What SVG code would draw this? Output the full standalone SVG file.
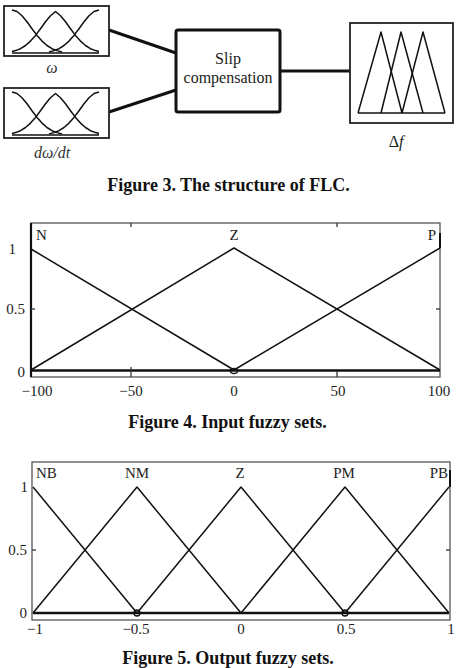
<svg xmlns="http://www.w3.org/2000/svg" xmlns:xlink="http://www.w3.org/1999/xlink" width="462" height="668" viewBox="0 0 462 668">
<style>
.cap{font-family:"Liberation Serif","Times New Roman",serif;font-weight:bold;font-size:18px;fill:#111;text-anchor:middle}
.lbl{font-family:"Liberation Serif","Times New Roman",serif;font-size:15px;fill:#222}
.ser{font-family:"Liberation Serif","Times New Roman",serif;font-size:16px;fill:#222;text-anchor:middle}
.it{font-family:"Liberation Serif","Times New Roman",serif;font-style:italic;font-size:16px;fill:#333;text-anchor:middle}
.box{fill:#fff;stroke:#222;stroke-width:1.8}
.mf{fill:none;stroke:#111;stroke-width:1.5;stroke-linejoin:round}
.frame{fill:none;stroke:#555;stroke-width:1.3}
.zero{stroke:#111;stroke-width:2.5}
.tick{stroke:#333;stroke-width:1.3}
.conn{stroke:#111;stroke-width:3;fill:none}
</style>
<defs>
<g id="bells">
<polyline class="mf" points="12,10 17,11.5 22,15.7 27,21.8 32,28.7 37,35.4 42,41.1 47,45.5 52,48.7 57,50.6 62,52"/>
<polyline class="mf" points="99,10 94,11.5 89,15.7 84,21.8 79,28.7 74,35.4 69,41.1 64,45.5 59,48.7 54,50.6 49,52"/>
<polyline class="mf" points="12,51.5 15.5,50.6 20.5,48.7 25.5,45.5 30.5,41.1 35.5,35.4 40.5,28.7 45.5,21.8 50.5,15.7 55.5,11.5 60.5,15.7 65.5,21.8 70.5,28.7 75.5,35.4 80.5,41.1 85.5,45.5 90.5,48.7 95.5,50.6 99,51.5"/>
<line class="mf" x1="12" y1="53" x2="99" y2="53" stroke-width="2"/>
</g>
</defs>

<!-- Figure 3 -->
<g id="connectors">
<line class="conn" x1="109" y1="30" x2="176" y2="53"/>
<line class="conn" x1="109" y1="112" x2="176" y2="90"/>
<line class="conn" x1="281" y1="71" x2="350" y2="71"/>
</g>
<g id="input-omega">
<rect class="box" x="4" y="6" width="105" height="50"/>
<use xlink:href="#bells"/>
<text class="it" x="52" y="73">ω</text>
</g>
<g id="input-domega">
<rect class="box" x="4" y="88" width="105" height="50"/>
<use xlink:href="#bells" transform="translate(0,82)"/>
<text class="it" x="52" y="158">dω/dt</text>
</g>
<g id="slip-compensation">
<rect x="176" y="30" width="104" height="82" rx="2" fill="#fff" stroke="#111" stroke-width="3"/>
<text class="ser" x="228" y="64">Slip</text>
<text class="ser" x="228" y="83" font-size="16.5">compensation</text>
</g>
<g id="output-df">
<rect class="box" x="350" y="23" width="103" height="100"/>
<polyline class="mf" points="358,113 381,32 402,113"/>
<polyline class="mf" points="381,113 401,32 423,113"/>
<polyline class="mf" points="402,113 423,32 445,113"/>
<line class="mf" x1="358" y1="113" x2="445" y2="113"/>
<text class="ser" x="396" y="147" font-size="15" fill="#444">Δ<tspan font-style="italic">f</tspan></text>
</g>
<text class="cap" x="228.5" y="191">Figure 3. The structure of FLC.</text>

<!-- Figure 4 -->
<g id="fig4">
<rect class="frame" x="31" y="223" width="409" height="154"/>
<line x1="31" y1="223" x2="31" y2="377" stroke="#111" stroke-width="2.2"/>
<line class="zero" x1="31" y1="370.5" x2="440" y2="370.5"/>
<line class="tick" x1="131" y1="223" x2="131" y2="227"/>
<line class="tick" x1="337" y1="223" x2="337" y2="227"/>
<line class="tick" x1="131" y1="377" x2="131" y2="367" stroke-width="2.2"/>
<line class="tick" x1="337" y1="377" x2="337" y2="371" stroke-width="2.2"/>
<line class="tick" x1="440" y1="309" x2="436" y2="309"/>
<line class="tick" x1="31" y1="309" x2="35" y2="309"/>
<line x1="440" y1="233" x2="440" y2="248" stroke="#111" stroke-width="2"/>
<polyline class="mf" points="31,249 234,370"/>
<polyline class="mf" points="31,370 234,248 440,370"/>
<polyline class="mf" points="234,370 440,248"/>
<ellipse cx="234" cy="371" rx="3.5" ry="2.5" fill="none" stroke="#111" stroke-width="1.3"/>
<text class="lbl" x="36" y="240">N</text>
<text class="lbl" x="234" y="240" text-anchor="middle">Z</text>
<text class="lbl" x="436" y="240" text-anchor="end">P</text>
<text class="lbl" x="16" y="254" text-anchor="end">1</text>
<text class="lbl" x="25" y="314" text-anchor="end">0.5</text>
<text class="lbl" x="25" y="377" text-anchor="end">0</text>
<text class="lbl" x="37" y="396" text-anchor="middle">−100</text>
<text class="lbl" x="131" y="396" text-anchor="middle">−50</text>
<text class="lbl" x="234" y="396" text-anchor="middle">0</text>
<text class="lbl" x="338" y="396" text-anchor="middle">50</text>
<text class="lbl" x="439" y="396" text-anchor="middle">100</text>
</g>
<text class="cap" x="227.5" y="428">Figure 4. Input fuzzy sets.</text>

<!-- Figure 5 -->
<g id="fig5">
<rect class="frame" x="32" y="462" width="418" height="158"/>
<line class="zero" x1="33" y1="613" x2="449" y2="613"/>
<line class="tick" x1="450" y1="550" x2="446" y2="550"/>
<line class="tick" x1="32" y1="550" x2="36" y2="550"/>
<line x1="450" y1="470" x2="450" y2="487" stroke="#111" stroke-width="2"/>
<polyline class="mf" points="33,487 137,613"/>
<polyline class="mf" points="33,613 137,487 241,613"/>
<polyline class="mf" points="137,613 241,487 345,613"/>
<polyline class="mf" points="241,613 345,487 449,613"/>
<polyline class="mf" points="345,613 449,487"/>
<circle cx="137" cy="613" r="3" fill="none" stroke="#111" stroke-width="1.3"/>
<circle cx="345" cy="613" r="3" fill="none" stroke="#111" stroke-width="1.3"/>
<text class="lbl" x="36" y="478">NB</text>
<text class="lbl" x="137" y="478" text-anchor="middle">NM</text>
<text class="lbl" x="240" y="478" text-anchor="middle">Z</text>
<text class="lbl" x="344" y="478" text-anchor="middle">PM</text>
<text class="lbl" x="448" y="478" text-anchor="end">PB</text>
<text class="lbl" x="28" y="492" text-anchor="end">1</text>
<text class="lbl" x="27" y="555" text-anchor="end">0.5</text>
<text class="lbl" x="27" y="618" text-anchor="end">0</text>
<text class="lbl" x="35" y="634" text-anchor="middle">−1</text>
<text class="lbl" x="136" y="634" text-anchor="middle">−0.5</text>
<text class="lbl" x="241" y="634" text-anchor="middle">0</text>
<text class="lbl" x="346" y="634" text-anchor="middle">0.5</text>
<text class="lbl" x="451" y="634" text-anchor="middle">1</text>
</g>
<text class="cap" x="228" y="664">Figure 5. Output fuzzy sets.</text>
</svg>
